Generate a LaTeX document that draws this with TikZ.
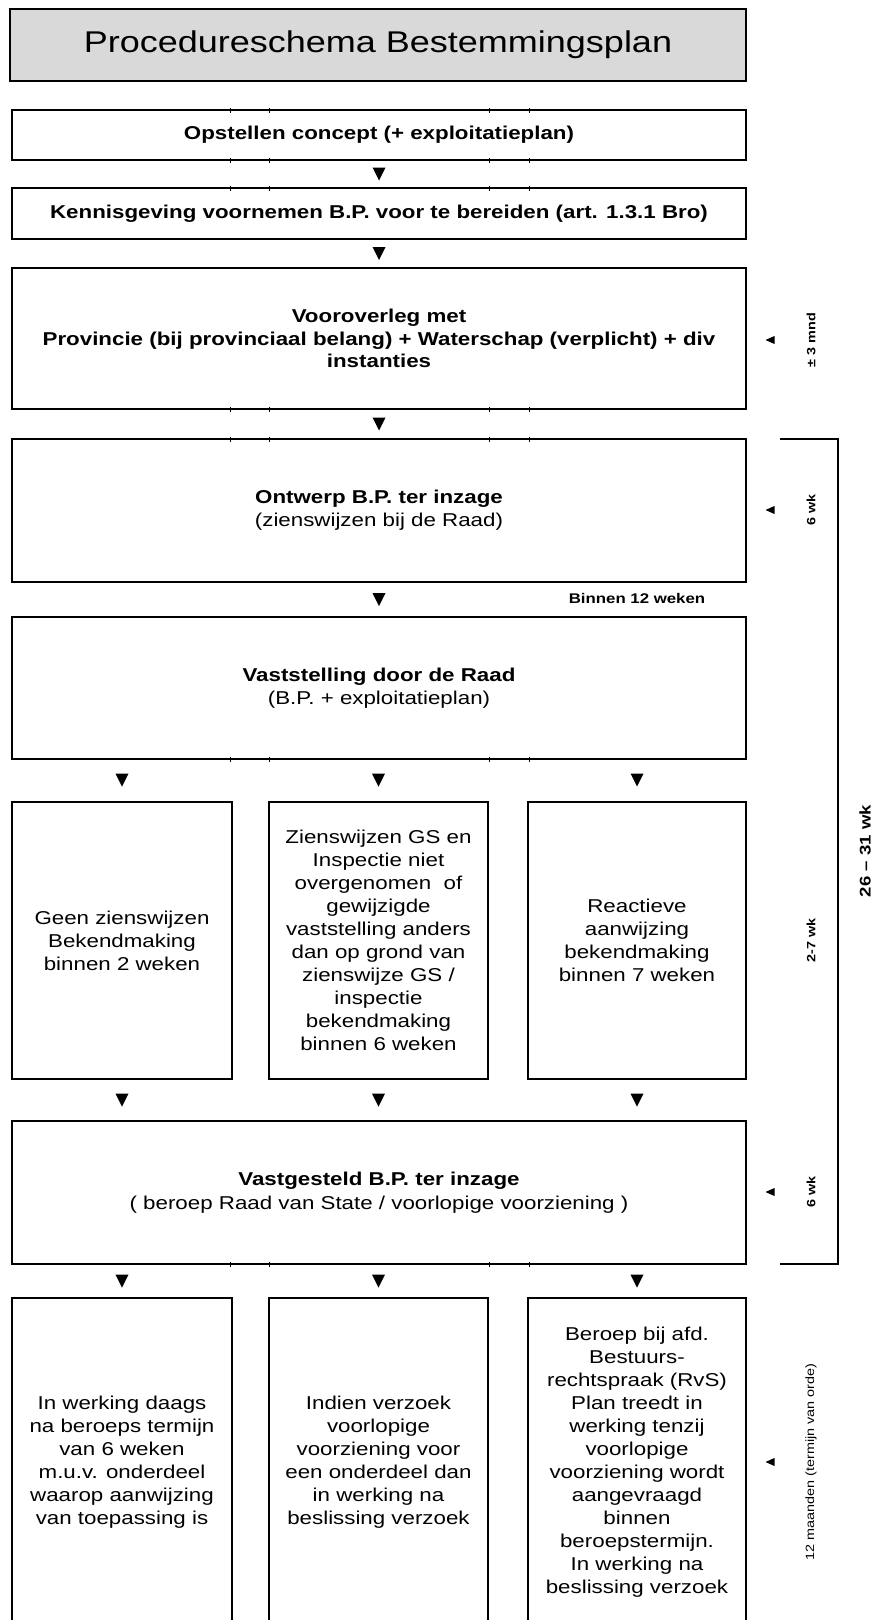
\documentclass[tikz,border=0pt]{standalone}
\usepackage{fontspec}
\setmainfont{Liberation Sans}[FakeStretch=1.2]
\usetikzlibrary{calc}
\definecolor{titlegray}{HTML}{D9D9D9}
\begin{document}
\begin{tikzpicture}[x=1pt,y=-1pt,
  every node/.style={inner sep=0pt, outer sep=0pt},
  boxn/.style={draw, line width=1.6pt, align=center, font=\fontsize{18.6}{23}\selectfont},
  wide/.style={boxn, minimum width=734pt},
  colbox/.style={boxn, minimum width=219pt},
  titlebox/.style={draw, line width=1.6pt, fill=titlegray, minimum width=736pt, minimum height=72pt, font=\fontsize{30}{36}\selectfont},
  lab/.style={font=\fontsize{12}{14}\selectfont\bfseries, rotate=90},
  labreg/.style={font=\fontsize{12}{14}\selectfont, rotate=90},
  bigLab/.style={font=\fontsize{15.5}{18}\selectfont\bfseries, rotate=90},
  note/.style={font=\fontsize{14}{16}\selectfont\bfseries},
  bracket/.style={line width=1.8pt},
  tick/.style={line width=0.8pt},
  pics/dtri/.style={code={\fill (-6.5,-6.5) -- (6.5,-6.5) -- (0,6.5) -- cycle;}},
  pics/ltri/.style={code={\fill (-4.5,0) -- (4.5,-4) -- (4.5,4) -- cycle;}}
]
\useasboundingbox (0,0) rectangle (876,1620);

% title
\node[titlebox] (title) at (378,45) {Procedureschema Bestemmingsplan};

% main boxes
\node[wide, minimum height=50pt] (b1) at (379,135) {\bfseries Opstellen concept (+ exploitatieplan)};
\node[wide, minimum height=51pt] (b2) at (379,213.5) {\bfseries Kennisgeving voornemen B.P. voor te bereiden (art. 1.3.1 Bro)};
\node[wide, minimum height=141pt, font=\fontsize{18.6}{22.5}\selectfont\bfseries] (b3) at (379,338.5) {Vooroverleg met\\Provincie (bij provinciaal belang) + Waterschap (verplicht) + div\\instanties};
\node[wide, minimum height=143pt] (b4) at (379,510.5) {\textbf{Ontwerp B.P. ter inzage}\\(zienswijzen bij de Raad)};
\node[wide, minimum height=142pt] (b5) at (379,688) {\textbf{Vaststelling door de Raad}\\(B.P. + exploitatieplan)};

% row A
\node[colbox, minimum width=220pt, minimum height=277pt] (a1) at (122,940.5) {Geen zienswijzen\\Bekendmaking\\binnen 2 weken};
\node[colbox, minimum height=277pt] (a2) at (378.5,940.5) {Zienswijzen GS en\\Inspectie niet\\overgenomen\ \ of\\gewijzigde\\vaststelling anders\\dan op grond van\\zienswijze GS /\\inspectie\\bekendmaking\\binnen 6 weken};
\node[colbox, minimum width=218pt, minimum height=277pt] (a3) at (637,940.5) {Reactieve\\aanwijzing\\bekendmaking\\binnen 7 weken};

\node[wide, minimum height=143pt, font=\fontsize{18.6}{24}\selectfont] (b6) at (379,1192.5) {\textbf{Vastgesteld B.P. ter inzage}\\( beroep Raad van State / voorlopige voorziening )};

% row B
\node[colbox, minimum width=220pt, minimum height=328pt] (c1) at (122,1462) {In werking daags\\na beroeps termijn\\van 6 weken\\m.u.v. onderdeel\\waarop aanwijzing\\van toepassing is};
\node[colbox, minimum height=328pt] (c2) at (378.5,1462) {Indien verzoek\\voorlopige\\voorziening voor\\een onderdeel dan\\in werking na\\beslissing verzoek};
\node[colbox, minimum width=218pt, minimum height=328pt] (c3) at (637,1462) {Beroep bij afd.\\Bestuurs-\\rechtspraak (RvS)\\Plan treedt in\\werking tenzij\\voorlopige\\voorziening wordt\\aangevraagd\\binnen\\beroepstermijn.\\In werking na\\beslissing verzoek};

% down triangles
\pic at ($(b1.south)!0.5!(b2.north)$) {dtri};
\pic at ($(b2.south)!0.5!(b3.north)$) {dtri};
\pic at ($(b3.south)!0.5!(b4.north)$) {dtri};
\pic at ($(b4.south)!0.5!(b5.north)$) {dtri};
\pic at ($(a1.north)+(0,-22)$) {dtri};
\pic at ($(a2.north)+(0,-22)$) {dtri};
\pic at ($(a3.north)+(0,-22)$) {dtri};
\pic at ($(a1.south)+(0,21)$) {dtri};
\pic at ($(a2.south)+(0,21)$) {dtri};
\pic at ($(a3.south)+(0,21)$) {dtri};
\pic at ($(c1.north)+(0,-17)$) {dtri};
\pic at ($(c2.north)+(0,-17)$) {dtri};
\pic at ($(c3.north)+(0,-17)$) {dtri};

\node[note] (n12) at (637,598) {Binnen 12 weken};

% table ticks
\foreach \yy in {110,160,188,409,439,759,1264}{
  \foreach \xx in {230,269,489,529}{
    \draw[tick] (\xx,\yy-2.5) -- (\xx,\yy+2.5);
  }
}

% right-side labels
\pic at (770,340) {ltri};
\node[lab] (l1) at (811,340) {± 3 mnd};
\pic at (770,510) {ltri};
\node[lab] (l2) at (811,510) {6 wk};
\node[lab] (l3) at (811,940) {2-7 wk};
\pic at (770,1192) {ltri};
\node[lab] (l4) at (811,1192) {6 wk};
\pic at (770,1462) {ltri};
\node[labreg] (l5) at (811,1462) {12 maanden (termijn van orde)};

% bracket
\coordinate (bra) at (780,439);
\coordinate (brb) at (838,439);
\coordinate (brc) at (838,1264);
\coordinate (brd) at (780,1264);
\draw[bracket] (bra) -- (brb) -- (brc) -- (brd);
\node[bigLab] (tot) at (865,851) {26 – 31 wk};
\end{tikzpicture}
\end{document}
